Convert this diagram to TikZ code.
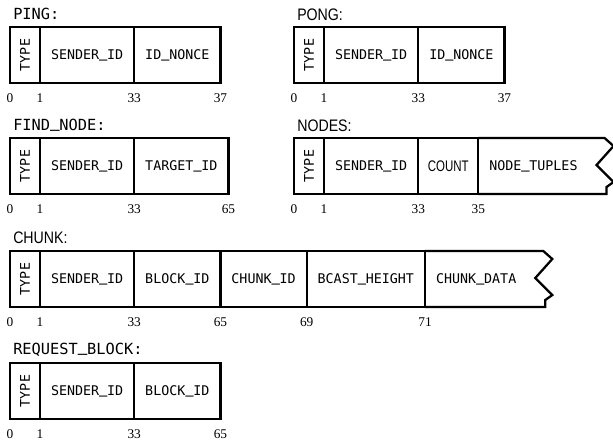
\documentclass[tikz,border=0pt]{standalone}
\usepackage{graphicx}
\usepackage{fontspec}
\setmainfont{Liberation Serif}
\newfontfamily\fieldfont{DejaVu Sans Mono}
\newfontfamily\usfont[FakeBold=2]{DejaVu Sans Mono}
\newfontfamily\narrowfont[FakeStretch=0.85]{Liberation Sans}
\newfontfamily\countfont[FakeStretch=0.75]{Liberation Sans}
\newcommand\us{\raisebox{0.2em}{\usfont\_}}
\usetikzlibrary{positioning}

\begin{document}
\begin{tikzpicture}[x=0.75pt, y=-0.75pt, node distance=0pt,
  field/.style={draw, line width=1.7pt, outer sep=0pt, inner sep=0pt, inner xsep=8.25pt,
    minimum height=42pt, text height=7.3pt, text depth=0pt, font=\fieldfont},
  typecell/.style={field, inner xsep=0pt, minimum width=22.5pt, text height=, text depth=},
  openfield/.style={field, draw=none},
  edge/.style={line width=1.7pt},
  title/.style={anchor=base west, inner sep=0pt, font=\fieldfont\fontsize{11.5}{13}\selectfont},
  ntitle/.style={anchor=base west, inner sep=0pt, font=\narrowfont\fontsize{12.5}{14}\selectfont},
  num/.style={inner sep=0pt, font=\fontsize{10}{12}\selectfont}]
  \useasboundingbox (0,0) rectangle (613,444);

  % PING
  \node[typecell, anchor=north west] (pingtype) at (10,27) {\rotatebox{90}{TYPE}};
  \node[field, right=of pingtype] (pingsender) {SENDER\us ID};
  \node[field, right=of pingsender] (pingnonce) {ID\us NONCE};
  \node[title] (pingtitle) at ([shift={(3,-8)}]pingtype.north west) {PING:};
  \node[num, below=8pt of pingtype.south west] (ping0) {0};
  \node[num, below=8pt of pingsender.south west] (ping1) {1};
  \node[num, below=8pt of pingnonce.south west] (ping33) {33};
  \node[num, below=8pt of pingnonce.south east] (ping37) {37};

  % PONG
  \node[typecell, anchor=north west] (pongtype) at (294,27) {\rotatebox{90}{TYPE}};
  \node[field, right=of pongtype] (pongsender) {SENDER\us ID};
  \node[field, right=of pongsender] (pongnonce) {ID\us NONCE};
  \node[ntitle] (pongtitle) at ([shift={(3,-7)}]pongtype.north west) {PONG:};
  \node[num, below=8pt of pongtype.south west] (pong0) {0};
  \node[num, below=8pt of pongsender.south west] (pong1) {1};
  \node[num, below=8pt of pongnonce.south west] (pong33) {33};
  \node[num, below=8pt of pongnonce.south east] (pong37) {37};

  % FIND_NODE
  \node[typecell, anchor=north west] (findtype) at (10,138) {\rotatebox{90}{TYPE}};
  \node[field, right=of findtype] (findsender) {SENDER\us ID};
  \node[field, right=of findsender] (findtarget) {TARGET\us ID};
  \node[title] (findtitle) at ([shift={(3,-8)}]findtype.north west) {FIND\us NODE:};
  \node[num, below=8pt of findtype.south west] (find0) {0};
  \node[num, below=8pt of findsender.south west] (find1) {1};
  \node[num, below=8pt of findtarget.south west] (find33) {33};
  \node[num, below=8pt of findtarget.south east] (find65) {65};

  % NODES
  \node[typecell, anchor=north west] (nodestype) at (294,138) {\rotatebox{90}{TYPE}};
  \node[field, right=of nodestype] (nodessender) {SENDER\us ID};
  \node[field, right=of nodessender, minimum width=45pt, inner xsep=0pt, text height=8.2pt,
    font=\countfont\fontsize{11.5}{13}\selectfont] (nodescount) {COUNT};
  \node[openfield, right=of nodescount] (nodestuples) {NODE\us TUPLES};
  \draw[edge] (nodestuples.north west) -- ([xshift=12pt]nodestuples.north east)
    -- ++(9,8) -- ++(-17,19) -- ++(17,17) -- ++(-7,5) |- (nodestuples.south west);
  \node[ntitle] (nodestitle) at ([shift={(3,-7)}]nodestype.north west) {NODES:};
  \node[num, below=8pt of nodestype.south west] (nodes0) {0};
  \node[num, below=8pt of nodessender.south west] (nodes1) {1};
  \node[num, below=8pt of nodescount.south west] (nodes33) {33};
  \node[num, below=8pt of nodestuples.south west] (nodes35) {35};

  % CHUNK
  \node[typecell, anchor=north west] (chunktype) at (10,251) {\rotatebox{90}{TYPE}};
  \node[field, right=of chunktype] (chunksender) {SENDER\us ID};
  \node[field, right=of chunksender] (chunkblock) {BLOCK\us ID};
  \node[field, right=of chunkblock] (chunkid) {CHUNK\us ID};
  \node[field, right=of chunkid] (chunkheight) {BCAST\us HEIGHT};
  \node[openfield, right=of chunkheight] (chunkdata) {CHUNK\us DATA};
  \draw[edge] (chunkdata.north west) -- ([xshift=12pt]chunkdata.north east)
    -- ++(9,8) -- ++(-17,19) -- ++(17,17) -- ++(-7,5) |- (chunkdata.south west);
  \node[ntitle] (chunktitle) at ([shift={(3,-8)}]chunktype.north west) {CHUNK:};
  \node[num, below=8pt of chunktype.south west] (chunk0) {0};
  \node[num, below=8pt of chunksender.south west] (chunk1) {1};
  \node[num, below=8pt of chunkblock.south west] (chunk33) {33};
  \node[num, below=8pt of chunkid.south west] (chunk65) {65};
  \node[num, below=8pt of chunkheight.south west] (chunk69) {69};
  \node[num, below=8pt of chunkdata.south west] (chunk71) {71};

  % REQUEST_BLOCK
  \node[typecell, anchor=north west] (reqtype) at (10,363) {\rotatebox{90}{TYPE}};
  \node[field, right=of reqtype] (reqsender) {SENDER\us ID};
  \node[field, right=of reqsender] (reqblock) {BLOCK\us ID};
  \node[title] (reqtitle) at ([shift={(3,-9)}]reqtype.north west) {REQUEST\us BLOCK:};
  \node[num, below=8pt of reqtype.south west] (req0) {0};
  \node[num, below=8pt of reqsender.south west] (req1) {1};
  \node[num, below=8pt of reqblock.south west] (req33) {33};
  \node[num, below=8pt of reqblock.south east] (req65) {65};
\end{tikzpicture}
\end{document}
